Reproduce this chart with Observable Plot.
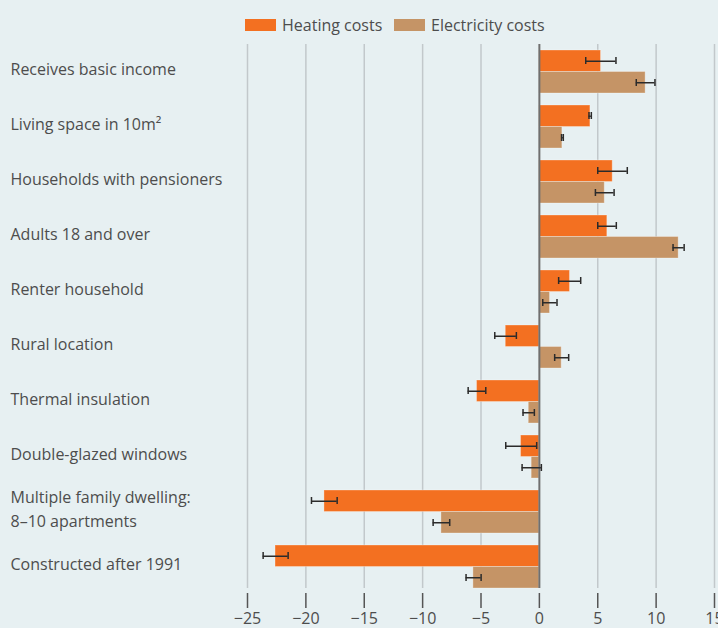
<!DOCTYPE html>
<html><head><meta charset="utf-8">
<script src="https://cdn.jsdelivr.net/npm/d3@7"></script>
<script src="https://cdn.jsdelivr.net/npm/@observablehq/plot@0.6"></script>
<style>
body{margin:0;background:#e7f0f2;font-family:"Open Sans",sans-serif;}
#legend{position:relative;height:40px;width:718px;}
.item{position:absolute;top:15px;display:flex;align-items:center;font-size:16px;color:#4d4d4d;line-height:20px;}
.sw{width:31px;height:12px;margin-right:6px;}
</style></head><body>
<div id="legend"></div>
<div id="chart"></div>
<script>
const categories = [
  "Receives basic income",
  "Living space in 10m²",
  "Households with pensioners",
  "Adults 18 and over",
  "Renter household",
  "Rural location",
  "Thermal insulation",
  "Double-glazed windows",
  "Multiple family dwelling:\n8–10 apartments",
  "Constructed after 1991"
];
const series = ["Heating costs", "Electricity costs"];
const colors = ["#f37021", "#c59466"];
const heating     = [5.28, 4.37, 6.28, 5.82, 2.62, -2.88, -5.34, -1.57, -18.41, -22.6];
const heatingLow  = [3.97, 4.25, 5.0, 5.0, 1.65, -3.82, -6.1, -2.88, -19.52, -23.66];
const heatingHigh = [6.56, 4.45, 7.53, 6.59, 3.54, -1.97, -4.59, -0.23, -17.32, -21.52];
const electricity     = [9.1, 1.97, 5.6, 11.93, 0.91, 1.91, -0.91, -0.66, -8.39, -5.65];
const electricityLow  = [8.3, 1.9, 4.8, 11.45, 0.29, 1.31, -1.4, -1.48, -9.1, -6.28];
const electricityHigh = [9.9, 2.05, 6.4, 12.4, 1.51, 2.51, -0.43, 0.17, -7.68, -4.99];
const xTicks = [-25, -20, -15, -10, -5, 0, 5, 10, 15];

// legend
const legend = document.getElementById("legend");
const legendLeft = [245, 394];
series.forEach((s, i) => {
  const it = document.createElement("div");
  it.className = "item";
  it.style.left = legendLeft[i] + "px";
  const sw = document.createElement("span");
  sw.className = "sw";
  sw.style.background = colors[i];
  it.appendChild(sw);
  it.appendChild(document.createTextNode(s));
  legend.appendChild(it);
});

const hRows = categories.map((c, i) => ({category: c, series: series[0], value: heating[i], lo: heatingLow[i], hi: heatingHigh[i]}));
const eRows = categories.map((c, i) => ({category: c, series: series[1], value: electricity[i], lo: electricityLow[i], hi: electricityHigh[i]}));

const errStyle = {stroke: "#2b2b2b", strokeWidth: 1.5};
const chart = Plot.plot({
  width: 718, height: 588,
  marginTop: 4, marginBottom: 35, marginLeft: 247, marginRight: 4,
  style: {background: "transparent", fontFamily: "Open Sans, sans-serif", fontSize: "16px", color: "#4d4d4d", overflow: "visible"},
  x: {domain: [-25, 15], ticks: xTicks},
  y: {domain: categories, paddingInner: 0.2182, paddingOuter: 0.1, axis: null},
  color: {domain: series, range: colors},
  marks: [
    Plot.ruleX(xTicks.filter(d => d !== 0), {stroke: "#c2c8cb", strokeWidth: 1.5, insetBottom: 5}),
    Plot.barX(hRows, {x: "value", y: "category", fill: "series", insetBottom: 21.5, stroke: "#ffffff", strokeOpacity: 0.3, strokeWidth: 1}),
    Plot.barX(eRows, {x: "value", y: "category", fill: "series", insetTop: 21.5, stroke: "#ffffff", strokeOpacity: 0.3, strokeWidth: 1}),
    Plot.ruleX([0], {stroke: "#6f6f6f", strokeWidth: 2, insetBottom: 5}),
    Plot.ruleY(hRows, {x1: "lo", x2: "hi", y: "category", dy: -10.75, ...errStyle}),
    Plot.ruleY(eRows, {x1: "lo", x2: "hi", y: "category", dy: 10.75, ...errStyle}),
    Plot.tickX(hRows, {x: "lo", y: "category", insetTop: 7, insetBottom: 29, ...errStyle}),
    Plot.tickX(hRows, {x: "hi", y: "category", insetTop: 7, insetBottom: 29, ...errStyle}),
    Plot.tickX(eRows, {x: "lo", y: "category", insetTop: 29, insetBottom: 7, ...errStyle}),
    Plot.tickX(eRows, {x: "hi", y: "category", insetTop: 29, insetBottom: 7, ...errStyle}),
    Plot.axisX({ticks: xTicks, tickSize: 15, tickPadding: 4, strokeWidth: 1.5, stroke: "#555",
      tickFormat: d => d < 0 ? "\u2212" + (-d) : String(d), label: null}),
    Plot.text(categories, {y: d => d, text: d => d, frameAnchor: "left", textAnchor: "start", dx: -237, dy: -4.5, lineHeight: 1.5, fill: "#4d4d4d", fontSize: 16})
  ]
});
document.getElementById("chart").appendChild(chart);
</script>
</body></html>
